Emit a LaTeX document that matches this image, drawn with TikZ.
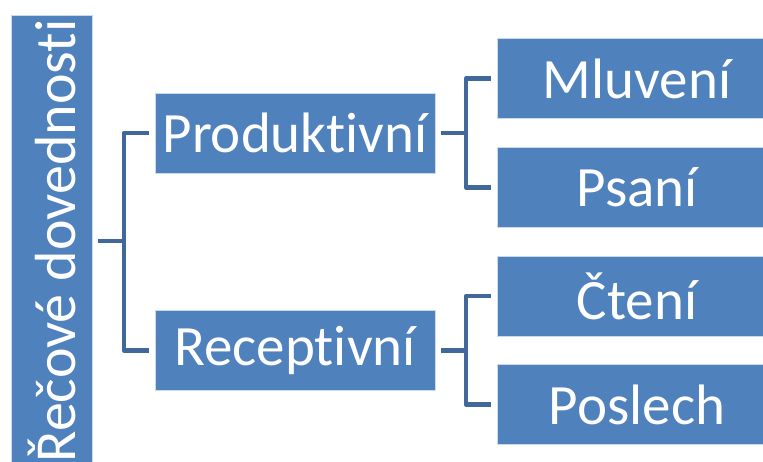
\documentclass[tikz,border=0pt]{standalone}
\usepackage{fontspec}
\setmainfont{Carlito}[RawFeature={-liga;-clig;-dlig}]
\definecolor{boxblue}{RGB}{79,129,189}
\definecolor{lineblue}{RGB}{64,104,154}
\begin{document}
\begin{tikzpicture}[x=1pt,y=-1pt,
  box/.style={fill=boxblue,draw=white!70!boxblue,line width=0.8pt,text=white,
    minimum width=280pt,minimum height=80pt,inner sep=0pt,
    font=\fontsize{57}{60}\selectfont},
  conn/.style={draw=lineblue,line width=4.8pt,line join=round,shorten <=6pt,shorten >=6pt}]
\clip (0,0) rectangle (763,461);
\fill[white] (0,0) rectangle (763,461);
\node[box,minimum width=81pt,minimum height=452pt,font=\fontsize{58}{60}\selectfont] (root) at (51.5,241) {\rotatebox{90}{Řečové dovednosti}};
\node[box] (prod) at (295,133) {Produktivní};
\node[box] (rec) at (295,350.5) {Receptivní};
\node[box] (mluv) at (637,78.5) {Mluvení};
\node[box] (psani) at (637,187.5) {Psaní};
\node[box] (cteni) at (637,296) {Čtení};
\node[box] (posl) at (637,404.5) {Poslech};
\coordinate (j1) at (124,241);
\coordinate (j2) at (466,133);
\coordinate (j3) at (466,350.5);
\draw[conn,shorten >=0pt] (root.east) -- (j1);
\draw[conn,shorten <=0pt] (j1) |- (prod.west);
\draw[conn,shorten <=0pt] (j1) |- (rec.west);
\draw[conn,shorten >=0pt] (prod.east) -- (j2);
\draw[conn,shorten <=0pt] (j2) |- (mluv.west);
\draw[conn,shorten <=0pt] (j2) |- (psani.west);
\draw[conn,shorten >=0pt] (rec.east) -- (j3);
\draw[conn,shorten <=0pt] (j3) |- (cteni.west);
\draw[conn,shorten <=0pt] (j3) |- (posl.west);
\end{tikzpicture}
\end{document}
